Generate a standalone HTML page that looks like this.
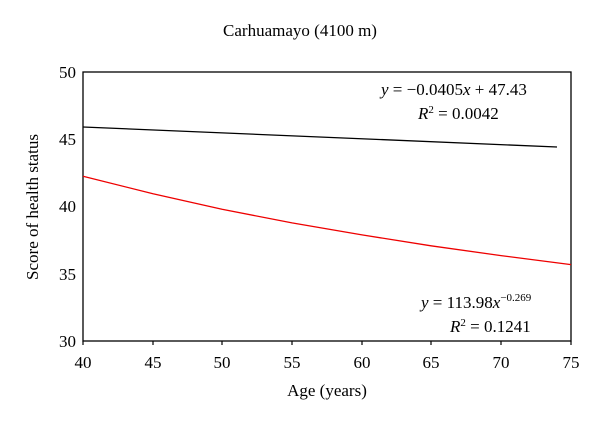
<!DOCTYPE html>
<html><head><meta charset="utf-8"><style>
body{margin:0;background:#fff}
svg{display:block;font-family:"Liberation Serif",serif}
</style></head><body>
<svg width="600" height="421" viewBox="0 0 600 421" xmlns="http://www.w3.org/2000/svg">
<rect width="600" height="421" fill="#fff"/>
<text x="300" y="36" font-size="17" text-anchor="middle">Carhuamayo (4100 m)</text>
<rect x="83" y="72" width="488" height="269" fill="none" stroke="#000" stroke-width="1.3"/>
<g font-size="17" text-anchor="end">
<text x="76" y="78">50</text>
<text x="76" y="145">45</text>
<text x="76" y="212">40</text>
<text x="76" y="280">35</text>
<text x="76" y="347">30</text>
</g>
<g stroke="#000" stroke-width="1.2">
<line x1="83" y1="341" x2="83" y2="345"/><line x1="153" y1="341" x2="153" y2="345"/><line x1="222" y1="341" x2="222" y2="345"/><line x1="292" y1="341" x2="292" y2="345"/><line x1="362" y1="341" x2="362" y2="345"/><line x1="431" y1="341" x2="431" y2="345"/><line x1="501" y1="341" x2="501" y2="345"/><line x1="571" y1="341" x2="571" y2="345"/>
</g>
<g font-size="17" text-anchor="middle">
<text x="83" y="368">40</text><text x="153" y="368">45</text><text x="222" y="368">50</text><text x="292" y="368">55</text><text x="362" y="368">60</text><text x="431" y="368">65</text><text x="501" y="368">70</text><text x="571" y="368">75</text>
</g>
<text x="327" y="396" font-size="17" text-anchor="middle">Age (years)</text>
<text transform="translate(38,207) rotate(-90)" font-size="17" text-anchor="middle">Score of health status</text>
<line x1="83" y1="127" x2="557" y2="147" stroke="#000" stroke-width="1.3"/>
<polyline fill="none" stroke="#e00" stroke-width="1.3" points="83,176.2 153,193.8 222,209.3 292,222.9 362,234.9 431,245.8 501,255.6 571,264.6"/>
<g font-size="17">
<text x="381" y="95"><tspan font-style="italic">y</tspan> = −0.0405<tspan font-style="italic">x</tspan> + 47.43</text>
<text x="418" y="119"><tspan font-style="italic">R</tspan><tspan font-size="11" dy="-6">2</tspan><tspan dy="6"> = 0.0042</tspan></text>
<text x="421" y="308"><tspan font-style="italic">y</tspan> = 113.98<tspan font-style="italic">x</tspan><tspan font-size="11" dy="-7">−0.269</tspan></text>
<text x="450" y="332"><tspan font-style="italic">R</tspan><tspan font-size="11" dy="-6">2</tspan><tspan dy="6"> = 0.1241</tspan></text>
</g>
</svg>
</body></html>
